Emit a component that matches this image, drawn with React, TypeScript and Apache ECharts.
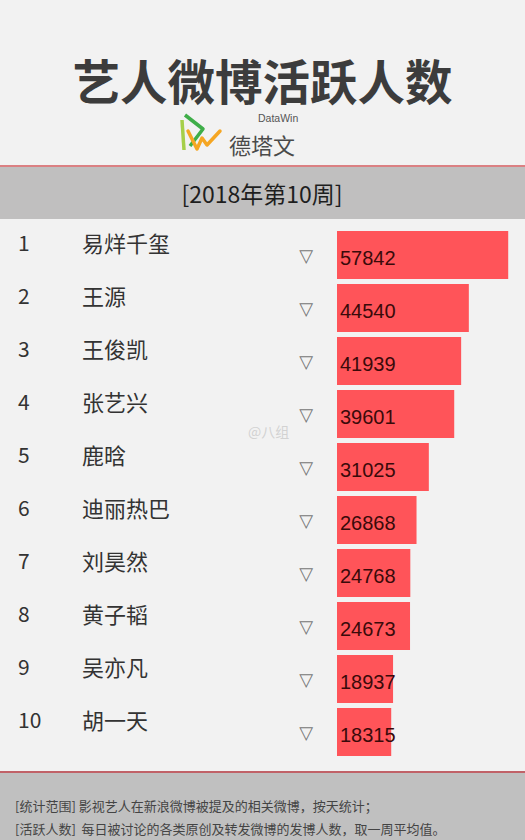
import React, { useEffect, useRef } from "react";
import * as echarts from "echarts";

const titleText = "艺人微博活跃人数";
const periodText = "[2018年第10周]";
const ranks = ["1", "2", "3", "4", "5", "6", "7", "8", "9", "10"];
const names = ["易烊千玺", "王源", "王俊凯", "张艺兴", "鹿晗", "迪丽热巴", "刘昊然", "黄子韬", "吴亦凡", "胡一天"];
const values = [57842, 44540, 41939, 39601, 31025, 26868, 24768, 24673, 18937, 18315];
const trendMarks = ["▽", "▽", "▽", "▽", "▽", "▽", "▽", "▽", "▽", "▽"];
const footLines = [
  "[统计范围] 影视艺人在新浪微博被提及的相关微博，按天统计；",
  "[活跃人数]  每日被讨论的各类原创及转发微博的发博人数，取一周平均值。",
];

const CJK = '"Noto Sans CJK SC", "Microsoft YaHei", sans-serif';

export default function App() {
  const ref = useRef<HTMLDivElement>(null);
  useEffect(() => {
    if (!ref.current) return;
    const chart = echarts.init(ref.current, null, { renderer: "svg" });
    chart.setOption({
      animation: false,
      backgroundColor: "#f2f2f2",
      grid: { left: 337, right: 10.4, top: 228.5, bottom: 81.5, containLabel: false },
      xAxis: { type: "value", min: 0, max: 60000, show: false },
      yAxis: [
        {
          type: "category",
          data: names,
          inverse: true,
          position: "left",
          axisLine: { show: false },
          axisTick: { show: false },
          splitLine: { show: false },
          axisLabel: {
            align: "left",
            margin: 319,
            verticalAlign: "bottom",
            formatter: (v: string, i: number) => `{r|${ranks[i]}}{n|${v}}`,
            rich: {
              r: { width: 64, fontSize: 21, lineHeight: 26, color: "#333", fontFamily: CJK, align: "left" },
              n: { fontSize: 22, lineHeight: 26, color: "#333", fontFamily: CJK, align: "left" },
            },
          },
        },
        {
          type: "category",
          data: names,
          inverse: true,
          position: "left",
          axisLine: { show: false },
          axisTick: { show: false },
          splitLine: { show: false },
          axisLabel: {
            margin: 24,
            formatter: (_v: string, i: number) => trendMarks[i],
            fontSize: 18,
            color: "#767676",
            fontFamily: '"DejaVu Sans", sans-serif',
          },
        },
      ],
      series: [
        {
          type: "bar",
          data: values,
          yAxisIndex: 0,
          barWidth: 48,
          itemStyle: { color: "#ff5459" },
          label: {
            show: true,
            position: "insideLeft",
            distance: 3,
            offset: [0, 3],
            color: "#3a0a0a",
            fontSize: 20,
            fontFamily: '"Liberation Sans", Arial, sans-serif',
          },
        },
      ],
      graphic: [
        {
          type: "text",
          x: 262.5,
          y: 79,
          style: {
            text: titleText,
            fontSize: 47.5,
            fontWeight: "bold",
            fill: "#3c3c3c",
            fontFamily: CJK,
            textAlign: "center",
            textVerticalAlign: "middle",
          },
        },
        { type: "polyline", shape: { points: [[182, 120], [184, 150]] }, style: { stroke: "#a5cf4a", lineWidth: 3.5, fill: "none" } },
        { type: "polyline", shape: { points: [[185, 115], [203, 129], [190, 146]] }, style: { stroke: "#3fae49", lineWidth: 3.5, fill: "none", lineJoin: "round" } },
        { type: "polyline", shape: { points: [[188, 131], [197, 149], [202, 138], [207, 145], [220, 131]] }, style: { stroke: "#f5a623", lineWidth: 3.5, fill: "none", lineJoin: "round", lineCap: "round" } },
        {
          type: "text",
          x: 258,
          y: 118,
          style: { text: "DataWin", fontSize: 10.5, fill: "#555", fontFamily: '"Liberation Sans", Arial, sans-serif', textVerticalAlign: "middle" },
        },
        {
          type: "text",
          x: 229,
          y: 144,
          style: { text: "德塔文", fontSize: 22, fill: "#4a4a4a", fontFamily: CJK, textVerticalAlign: "middle" },
        },
        { type: "rect", shape: { x: 0, y: 167, width: 525, height: 52 }, style: { fill: "#c0bfbf" } },
        { type: "line", shape: { x1: 0, y1: 166, x2: 525, y2: 166 }, style: { stroke: "#d35a5e", lineWidth: 1.5 } },
        {
          type: "text",
          x: 262,
          y: 193,
          style: { text: periodText, fontSize: 23, fill: "#1e1e1e", fontFamily: CJK, textAlign: "center", textVerticalAlign: "middle" },
        },
        {
          type: "text",
          x: 248,
          y: 431,
          style: { text: "@八组", fontSize: 14, fill: "#d2d2d2", fontFamily: CJK, textVerticalAlign: "middle" },
        },
        { type: "rect", shape: { x: 0, y: 773, width: 525, height: 67 }, style: { fill: "#c0c0c0" } },
        { type: "line", shape: { x1: 0, y1: 772, x2: 525, y2: 772 }, style: { stroke: "#b0323a", lineWidth: 1.5 } },
        {
          type: "text",
          x: 15,
          y: 805,
          style: { text: footLines[0], fontSize: 13, fill: "#444", fontFamily: CJK, textVerticalAlign: "middle" },
        },
        {
          type: "text",
          x: 15,
          y: 828,
          style: { text: footLines[1], fontSize: 13, fill: "#444", fontFamily: CJK, textVerticalAlign: "middle" },
        },
      ],
    });
    return () => chart.dispose();
  }, []);
  return <div ref={ref} style={{ position: "fixed", left: 0, top: 0, width: 525, height: 840 }} />;
}
